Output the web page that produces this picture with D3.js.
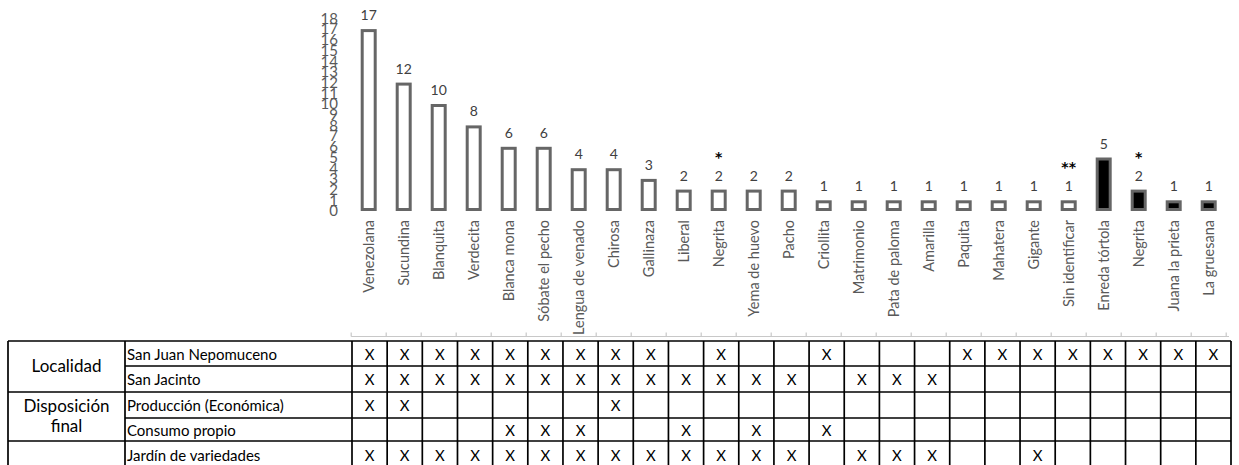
<!DOCTYPE html>
<html><head><meta charset="utf-8">
<script src="https://cdn.jsdelivr.net/npm/d3@7/dist/d3.min.js"></script>
<style>
html,body{margin:0;padding:0;background:#fff;}
svg{display:block;font-family:Lato,"Open Sans",sans-serif;}
</style></head>
<body>
<svg id="c" width="1239" height="465"></svg>
<script>
const categories = ["Venezolana","Sucundina","Blanquita","Verdecita","Blanca mona","Sóbate el pecho","Lengua de venado","Chirosa","Gallinaza","Liberal","Negrita","Yema de huevo","Pacho","Criollita","Matrimonio","Pata de paloma","Amarilla","Paquita","Mahatera","Gigante","Sin identificar","Enreda tórtola","Negrita","Juana la prieta","La gruesana"];
const values = [17,12,10,8,6,6,4,4,3,2,2,2,2,1,1,1,1,1,1,1,1,5,2,1,1];
const filled = [0,0,0,0,0,0,0,0,0,0,0,0,0,0,0,0,0,0,0,0,0,1,1,1,1];
const notes = ["","","","","","","","","","","*","","","","","","","","","","**","","*","",""];
const yTicks = [0,1,2,3,4,5,6,7,8,9,10,11,12,13,14,15,16,17,18];

const groupLabels = [["Localidad"],["Disposición","final"],[""]];
const groupRows = [[0,1],[2,3],[4,4]];
const rowLabels = ["San Juan Nepomuceno","San Jacinto","Producción (Económica)","Consumo propio","Jardín de variedades"];
const rowSanJuan    = [1,1,1,1,1,1,1,1,1,0,1,0,0,1,0,0,0,1,1,1,1,1,1,1,1];
const rowSanJacinto = [1,1,1,1,1,1,1,1,1,1,1,1,1,0,1,1,1,0,0,0,0,0,0,0,0];
const rowProduccion = [1,1,0,0,0,0,0,1,0,0,0,0,0,0,0,0,0,0,0,0,0,0,0,0,0];
const rowConsumo    = [0,0,0,0,1,1,1,0,0,1,0,1,0,1,0,0,0,0,0,0,0,0,0,0,0];
const rowJardin     = [1,1,1,1,1,1,1,1,1,1,1,1,1,0,1,1,1,0,0,1,0,0,0,0,0];
const tableRows = [rowSanJuan,rowSanJacinto,rowProduccion,rowConsumo,rowJardin];

const svg = d3.select("#c");
const idx = categories.map((d,i)=>i);
const x = d3.scaleBand().domain(idx).range([351.2,1226.2]).padding(0);
const y = d3.scaleLinear().domain([0,18]).range([211,18.4]);
const txtGray = "#595959";

// y tick labels
const yAxis = d3.axisLeft(y).tickValues(yTicks).tickSize(0).tickPadding(0).tickFormat(d3.format("d"));
const ya = svg.append("g").attr("transform","translate(338,0)").call(yAxis);
ya.select(".domain").remove();
ya.selectAll("text").attr("fill",txtGray).style("font-size","15px").style("font-family","Lato,'Open Sans',sans-serif");

// bars
const bw = 13, sw = 3;
svg.append("g").selectAll("rect").data(idx).join("rect")
  .attr("x",i=>x(i)+x.bandwidth()/2-bw/2)
  .attr("y",i=>y(values[i])+sw/2)
  .attr("width",bw)
  .attr("height",i=>y(0)-y(values[i])-sw)
  .attr("fill",i=>filled[i]?"#000":"#fff")
  .attr("stroke","#666").attr("stroke-width",sw);

// value labels
svg.append("g").selectAll("text").data(idx).join("text")
  .attr("x",i=>x(i)+x.bandwidth()/2)
  .attr("y",i=>y(values[i])-9)
  .attr("text-anchor","middle").attr("fill","#404040").style("font-size","14px")
  .text(i=>values[i]);

// notes (asterisks)
svg.append("g").selectAll("text").data(idx.filter(i=>notes[i])).join("text")
  .attr("x",i=>x(i)+x.bandwidth()/2)
  .attr("y",i=>y(values[i])-28)
  .attr("text-anchor","middle").attr("fill","#000")
  .style("font-family","'DejaVu Sans',sans-serif").style("font-size","14px").style("font-weight","bold")
  .text(i=>notes[i]);

// category labels
svg.append("g").selectAll("text").data(idx).join("text")
  .attr("transform",i=>`translate(${x(i)+x.bandwidth()/2},220) rotate(-90)`)
  .attr("text-anchor","end").attr("dy","0.35em")
  .attr("fill",txtGray).style("font-size","14.5px")
  .text(i=>categories[i]);

// category axis line with ticks
const axG = svg.append("g").attr("transform","translate(0,336.5)");
axG.append("line").attr("x1",351.2).attr("x2",1229).attr("stroke","#c8c8c8").attr("stroke-width",1.2);
axG.selectAll("line.t").data(d3.range(categories.length+1)).join("line").attr("class","t")
  .attr("x1",i=>351.2+i*x.step()).attr("x2",i=>351.2+i*x.step()).attr("y1",0).attr("y2",-4)
  .attr("stroke","#c8c8c8").attr("stroke-width",1.2);

// table
const rowY = [341,366,392,418,441,475];
const xt = d3.scaleBand().domain(idx).range([352,1231]);
const colG0 = 8, colG1 = 125;
const tg = svg.append("g");
const lineSt = s=>s.attr("stroke","#000").attr("stroke-width",1.7);
rowY.slice(0,5).forEach((yy,r)=>{
  const isGroupBorder = groupRows.some(g=>g[0]===r) || r===0;
  tg.append("line").attr("x1",isGroupBorder?colG0:colG1).attr("x2",1231).attr("y1",yy).attr("y2",yy).call(lineSt);
});
const vx = [colG0,colG1,352].concat(idx.map(i=>xt(i)+xt.bandwidth()));
vx.forEach(v=>tg.append("line").attr("x1",v).attr("x2",v).attr("y1",341).attr("y2",470).call(lineSt));

groupLabels.forEach((lines,g)=>{
  const r0 = groupRows[g][0], r1 = groupRows[g][1];
  const cy = (rowY[r0]+rowY[r1+1])/2;
  lines.forEach((t,k)=>{
    tg.append("text").attr("x",(colG0+colG1)/2).attr("y",cy+(k-(lines.length-1)/2)*20).attr("dy","0.35em")
      .attr("text-anchor","middle").attr("fill","#000").style("font-size","17px").text(t);
  });
});
rowLabels.forEach((t,r)=>{
  const cy = r<4 ? (rowY[r]+rowY[r+1])/2 : 455;
  tg.append("text").attr("x",127).attr("y",cy+1).attr("dy","0.35em").attr("fill","#000").style("font-size","15px").text(t);
});
tableRows.forEach((row,r)=>{
  const cy = r<4 ? (rowY[r]+rowY[r+1])/2 : 455;
  tg.append("g").selectAll("text").data(idx.filter(i=>row[i])).join("text")
    .attr("x",i=>xt(i)+xt.bandwidth()/2).attr("y",cy+1).attr("dy","0.35em")
    .attr("text-anchor","middle").attr("fill","#000").style("font-size","15px").text("X");
});
</script>
</body></html>
